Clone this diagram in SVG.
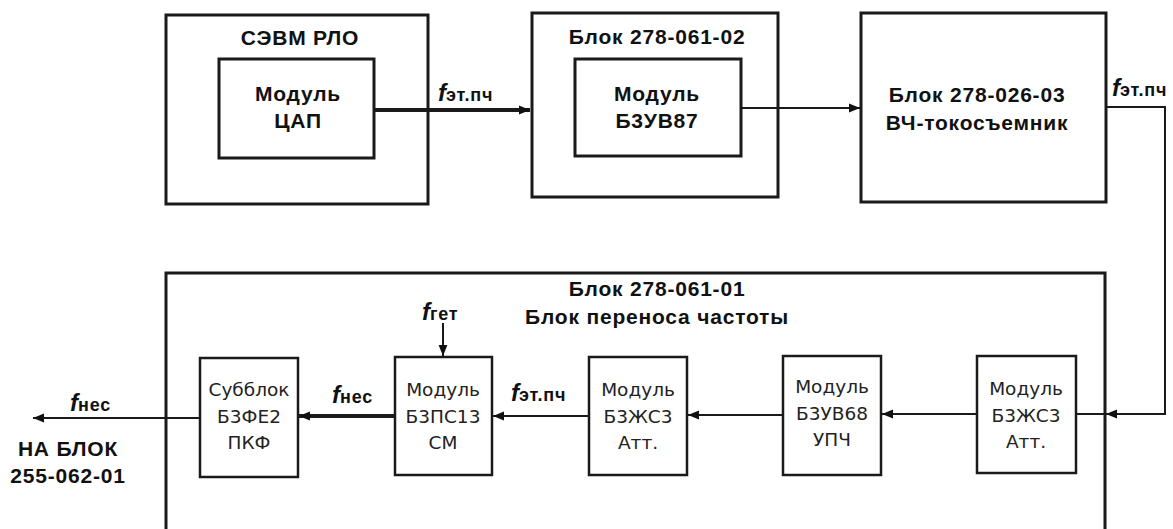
<svg xmlns="http://www.w3.org/2000/svg" width="1173" height="529" viewBox="0 0 1173 529">
<defs>
<style>
.box{fill:none;stroke:#1a1a1a;stroke-width:3}
.sbox{fill:none;stroke:#1a1a1a;stroke-width:2.5}
.t{font-family:"Liberation Sans",Arial,sans-serif;font-weight:bold;font-size:21px;letter-spacing:0.8px;fill:#111;text-anchor:middle}
.s{font-family:"DejaVu Sans","Liberation Sans",sans-serif;font-size:18.5px;fill:#222;text-anchor:middle}
.f{font-family:"Liberation Sans",Arial,sans-serif;font-weight:bold;font-style:italic;font-size:24px;fill:#111}
.sub{font-style:normal;font-size:18px;letter-spacing:0.8px}
.ln{stroke:#1a1a1a;stroke-width:2;fill:none}
.thk{stroke:#1a1a1a;stroke-width:4;fill:none}
</style>
<marker id="ah" viewBox="0 0 10 10" refX="10" refY="5" markerWidth="12" markerHeight="11" markerUnits="userSpaceOnUse" orient="auto">
<path d="M0,1 L10,5 L0,9 z" fill="#111"/>
</marker>
</defs>
<rect width="1173" height="529" fill="#fff"/>

<g id="sevm">
<rect class="box" x="166" y="15" width="262" height="189"/>
<text class="t" x="300" y="45">СЭВМ РЛО</text>
</g>
<g id="cap">
<rect class="box" x="219" y="59" width="155" height="99"/>
<text class="t" x="298" y="101">Модуль</text>
<text class="t" x="298" y="128">ЦАП</text>
</g>
<g id="blk02">
<rect class="box" x="532" y="13" width="246" height="184"/>
<text class="t" x="657" y="44">Блок 278-061-02</text>
</g>
<g id="bzuv87">
<rect class="box" x="575" y="59" width="166" height="97"/>
<text class="t" x="657" y="101">Модуль</text>
<text class="t" x="657" y="128">Б3УВ87</text>
</g>
<g id="blk03">
<rect class="box" x="861" y="13" width="245" height="189"/>
<text class="t" x="977" y="102">Блок 278-026-03</text>
<text class="t" x="977" y="130">ВЧ-токосъемник</text>
</g>
<g id="blk01">
<path class="box" d="M166,540 L166,273 L1105,273 L1105,540"/>
<text class="t" x="657" y="296">Блок 278-061-01</text>
<text class="t" x="657" y="324">Блок переноса частоты</text>
</g>
<g id="subblok">
<rect class="sbox" x="200" y="358" width="98" height="119"/>
<text class="s" x="249" y="396">Субблок</text>
<text class="s" x="249" y="423">Б3ФЕ2</text>
<text class="s" x="249" y="449">ПКФ</text>
</g>
<g id="bzps13">
<rect class="sbox" x="395" y="357" width="97" height="118"/>
<text class="s" x="443" y="396">Модуль</text>
<text class="s" x="443" y="423">Б3ПС13</text>
<text class="s" x="443" y="449">СМ</text>
</g>
<g id="bzhs3a">
<rect class="sbox" x="589" y="357" width="98" height="118"/>
<text class="s" x="638" y="396">Модуль</text>
<text class="s" x="638" y="423">Б3ЖС3</text>
<text class="s" x="638" y="449">Атт.</text>
</g>
<g id="bzuv68">
<rect class="sbox" x="783" y="356" width="98" height="119"/>
<text class="s" x="832" y="393">Модуль</text>
<text class="s" x="832" y="420">Б3УВ68</text>
<text class="s" x="832" y="446">УПЧ</text>
</g>
<g id="bzhs3b">
<rect class="sbox" x="977" y="356" width="99" height="117"/>
<text class="s" x="1026" y="395">Модуль</text>
<text class="s" x="1026" y="422">Б3ЖС3</text>
<text class="s" x="1026" y="448">Атт.</text>
</g>
<g id="out-label">
<text class="t" x="68" y="456">НА БЛОК</text>
<text class="t" x="68" y="483">255-062-01</text>
</g>

<g id="connectors">
<line class="thk" x1="374" y1="110" x2="530" y2="110" marker-end="url(#ah)"/>
<line class="ln" x1="741" y1="108" x2="860" y2="108" marker-end="url(#ah)"/>
<path class="ln" d="M1106,107 L1165,107 L1165,414 L1106,414" marker-end="url(#ah)"/>
<line class="ln" x1="1105" y1="414" x2="1076" y2="414"/>
<line class="ln" x1="977" y1="414" x2="882" y2="414" marker-end="url(#ah)"/>
<line class="ln" x1="783" y1="415" x2="688" y2="415" marker-end="url(#ah)"/>
<line class="ln" x1="589" y1="416" x2="493" y2="416" marker-end="url(#ah)"/>
<line class="thk" x1="395" y1="416" x2="299" y2="416" marker-end="url(#ah)"/>
<line class="ln" x1="200" y1="418" x2="33" y2="418" marker-end="url(#ah)"/>
<line class="ln" x1="443" y1="323" x2="443" y2="356" marker-end="url(#ah)"/>
<text class="f" x="438" y="101">f<tspan class="sub">эт.пч</tspan></text>
<text class="f" x="1112" y="96">f<tspan class="sub">эт.пч</tspan></text>
<text class="f" x="511" y="401">f<tspan class="sub">эт.пч</tspan></text>
<text class="f" x="332" y="403">f<tspan class="sub">нес</tspan></text>
<text class="f" x="70" y="411">f<tspan class="sub">нес</tspan></text>
<text class="f" x="422" y="320">f<tspan class="sub">гет</tspan></text>
</g>
</svg>
